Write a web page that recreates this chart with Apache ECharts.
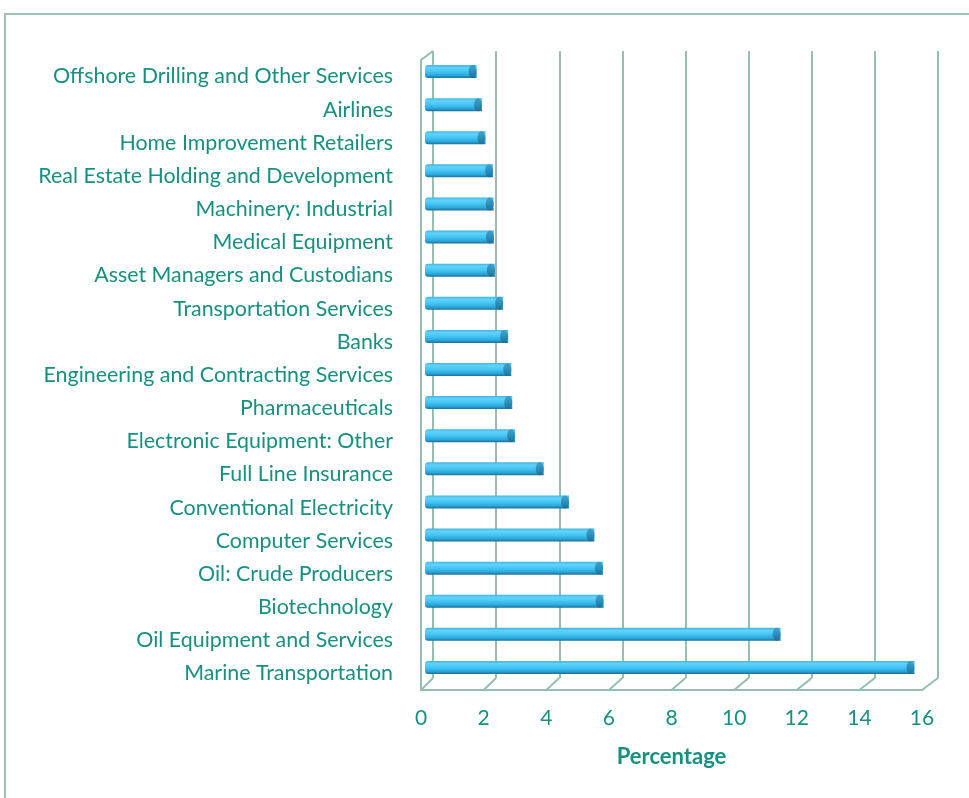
<!DOCTYPE html>
<html>
<head>
<meta charset="utf-8">
<script src="https://cdn.jsdelivr.net/npm/echarts@6/dist/echarts.min.js"></script>
<style>
  html, body { margin: 0; padding: 0; background: #fff; }
  #chart { width: 969px; height: 798px; }
</style>
</head>
<body>
<div id="chart"></div>
<script>
// categories listed top to bottom
const categories = [
    'Offshore Drilling and Other Services',
    'Airlines',
    'Home Improvement Retailers',
    'Real Estate Holding and Development',
    'Machinery: Industrial',
    'Medical Equipment',
    'Asset Managers and Custodians',
    'Transportation Services',
    'Banks',
    'Engineering and Contracting Services',
    'Pharmaceuticals',
    'Electronic Equipment: Other',
    'Full Line Insurance',
    'Conventional Electricity',
    'Computer Services',
    'Oil: Crude Producers',
    'Biotechnology',
    'Oil Equipment and Services',
    'Marine Transportation'
];
const percentages = [
    1.64, 1.81, 1.92, 2.16, 2.18, 2.19, 2.22, 2.48, 2.64, 2.74,
    2.77, 2.86, 3.77, 4.57, 5.38, 5.65, 5.67, 11.29, 15.54
];
const tickValues = [0, 2, 4, 6, 8, 10, 12, 14, 16];

const lineColor = '#95bdb0';
const textColor = '#16907f';
const fontFamily = 'Lato, "Noto Sans", sans-serif';

// back wall, bar depth, front floor
const backGrid = { left: 433, top: 51, width: 505, height: 627 };
const barGrid = { left: 425, top: 55, width: 504, height: 629 };
const frontGrid = { left: 421, top: 60, width: 501, height: 630 };

const chart = echarts.init(document.getElementById('chart'));

chart.setOption({
    animation: false,
    grid: [
        Object.assign({ outerBoundsMode: 'none' }, backGrid),
        Object.assign({ outerBoundsMode: 'none' }, barGrid),
        Object.assign({ outerBoundsMode: 'none' }, frontGrid)
    ],
    xAxis: [
        {
            gridIndex: 0, type: 'value', min: 0, max: 16, interval: 2,
            axisLine: { show: false }, axisTick: { show: false }, axisLabel: { show: false },
            splitLine: { show: true, lineStyle: { color: lineColor, width: 2 } }
        },
        { gridIndex: 1, type: 'value', min: 0, max: 16, show: false },
        {
            gridIndex: 2, type: 'value', min: 0, max: 16, interval: 2,
            axisLine: { show: true, lineStyle: { color: lineColor, width: 2 } },
            axisTick: { show: false },
            splitLine: { show: false },
            axisLabel: { color: textColor, fontSize: 21, margin: 18, fontFamily },
            name: 'Percentage',
            nameLocation: 'middle',
            nameGap: 56,
            nameTextStyle: { color: textColor, fontSize: 22, fontWeight: 'bold', fontFamily }
        }
    ],
    yAxis: [
        { gridIndex: 0, type: 'category', data: categories, inverse: true, show: false },
        { gridIndex: 1, type: 'category', data: categories, inverse: true, show: false },
        {
            gridIndex: 2, type: 'category', data: categories, inverse: true,
            axisLine: { show: true, lineStyle: { color: lineColor, width: 2 } },
            axisTick: { show: false },
            splitLine: { show: false },
            axisLabel: { color: textColor, fontSize: 21.4, margin: 28, fontFamily, padding: [6, 0, 0, 0] }
        }
    ],
    series: [
        {
            type: 'bar',
            xAxisIndex: 1,
            yAxisIndex: 1,
            data: percentages,
            barWidth: 13,
            itemStyle: {
                borderRadius: [3, 0, 0, 3],
                color: new echarts.graphic.LinearGradient(0, 0, 0, 1, [
                    { offset: 0, color: '#3fb4e0' },
                    { offset: 0.2, color: '#62d2fa' },
                    { offset: 0.5, color: '#45c5f5' },
                    { offset: 0.8, color: '#2aa6d8' },
                    { offset: 1, color: '#1b6f98' }
                ])
            }
        },
        {
            // darker end cap of each cylinder
            type: 'scatter',
            xAxisIndex: 1,
            yAxisIndex: 1,
            data: percentages,
            symbol: 'path://M50,0A50,50 0 1,1 50,100A50,50 0 1,1 50,0Z',
            symbolSize: [8, 13],
            symbolOffset: [-4, 0],
            z: 3,
            itemStyle: {
                color: new echarts.graphic.LinearGradient(0, 0, 0, 1, [
                    { offset: 0, color: '#3398c4' },
                    { offset: 1, color: '#1d6a8e' }
                ])
            }
        }
    ]
});

// 3D floor and wall edges
const elements = [{
    type: 'rect',
    shape: { x: 5, y: 14, width: 1000, height: 900 },
    style: { fill: 'none', stroke: '#9dc3b6', lineWidth: 2 },
    silent: true
}];
const frontBottom = frontGrid.top + frontGrid.height;
const backBottom = backGrid.top + backGrid.height;
tickValues.forEach(v => {
    const xf = chart.convertToPixel({ xAxisIndex: 2 }, v);
    const xb = chart.convertToPixel({ xAxisIndex: 0 }, v);
    elements.push({
        type: 'line',
        shape: { x1: xf, y1: frontBottom, x2: xb, y2: backBottom },
        style: { stroke: lineColor, lineWidth: 2 },
        silent: true
    });
});
elements.push({
    type: 'line',
    shape: { x1: frontGrid.left, y1: frontGrid.top, x2: backGrid.left, y2: backGrid.top },
    style: { stroke: lineColor, lineWidth: 2 },
    silent: true
});
chart.setOption({ graphic: { elements } });
</script>
</body>
</html>
